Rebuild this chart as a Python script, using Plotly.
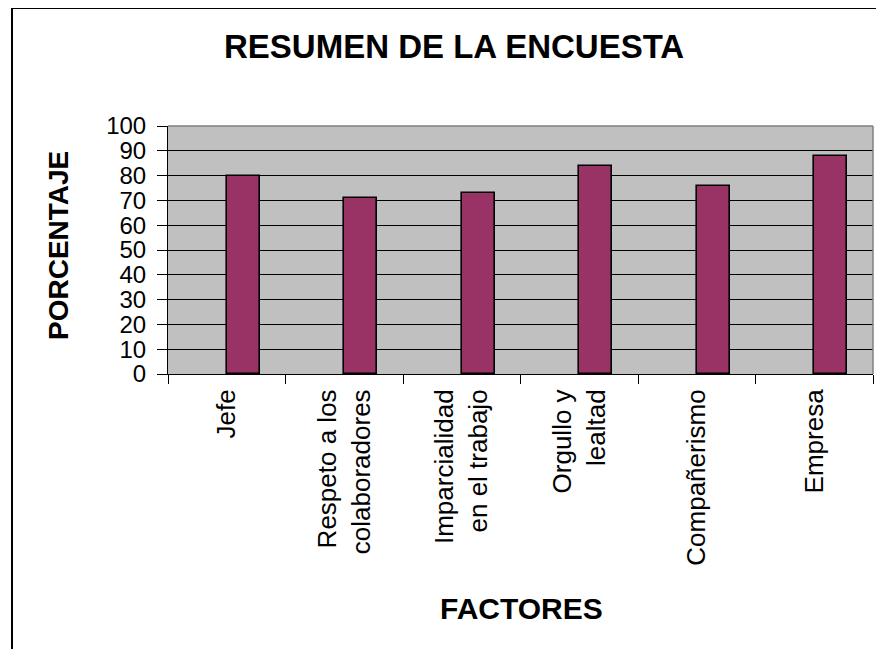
import plotly.graph_objects as go

categories = ["Jefe", "Respeto a los<br>colaboradores", "Imparcialidad<br>en el trabajo",
              "Orgullo y<br>lealtad", "Compañerismo", "Empresa"]
values = [80, 71, 73, 84, 76, 88]
y_ticks = [0, 10, 20, 30, 40, 50, 60, 70, 80, 90, 100]

W, H = 884, 649
OFF = 8  # page body margin
L, R, T, B = 168 - OFF, 873 - OFF, 126 - OFF, 374 - OFF

def px(x):
    return (x - OFF - L) / (R - L)

def py(y):
    return (B - (y - OFF)) / (B - T)

FONT = "Liberation Sans, Arial, sans-serif"

fig = go.Figure()
fig.add_trace(go.Bar(
    x=categories, y=values,
    offset=0, width=0.28,
    marker=dict(color="#993366", line=dict(color="black", width=1.6)),
))

fig.update_layout(
    width=W, height=H,
    margin=dict(l=L, r=W - R, t=T, b=H - B),
    paper_bgcolor="white",
    plot_bgcolor="#C0C0C0",
    showlegend=False,
    font=dict(family=FONT, color="black"),
    bargap=0,
)

fig.update_xaxes(
    type="category",
    range=[-0.5, 5.5],
    tickson="boundaries",
    ticks="outside", ticklen=9, tickcolor="black", tickwidth=1,
    showgrid=False,
    showline=True, linecolor="black", linewidth=1,
    tickangle=-90,
    tickfont=dict(size=26, family=FONT, color="black"),
    ticklabelstandoff=4,
)
fig.update_yaxes(
    range=[0, 100],
    tickvals=y_ticks,
    ticktext=[str(v) for v in y_ticks],
    ticks="outside", ticklen=10, tickcolor="black", tickwidth=1,
    showgrid=True, gridcolor="black", gridwidth=1,
    zeroline=False,
    showline=True, linecolor="black", linewidth=1,
    tickfont=dict(size=24, family=FONT, color="black"),
    ticklabelstandoff=6,
)

shapes = [
    dict(type="line", xref="paper", yref="paper", x0=0, x1=1, y0=1, y1=1,
         line=dict(color="#808080", width=1.5), layer="above"),
    dict(type="line", xref="paper", yref="paper", x0=1, x1=1, y0=0, y1=1,
         line=dict(color="#808080", width=1.5), layer="above"),
    dict(type="line", xref="paper", yref="paper", x0=px(11), x1=px(900), y0=py(8), y1=py(8),
         line=dict(color="black", width=2)),
    dict(type="line", xref="paper", yref="paper", x0=px(12), x1=px(12), y0=py(7), y1=py(660),
         line=dict(color="black", width=2)),
]
fig.update_layout(shapes=shapes)

annotations = [
    dict(text="<b>RESUMEN DE LA ENCUESTA</b>", xref="paper", yref="paper",
         x=px(454), y=py(47), showarrow=False, xanchor="center", yanchor="middle",
         font=dict(size=33, family=FONT, color="black")),
    dict(text="<b>PORCENTAJE</b>", xref="paper", yref="paper",
         x=px(58), y=py(246), showarrow=False, xanchor="center", yanchor="middle",
         textangle=-90, font=dict(size=28, family=FONT, color="black")),
    dict(text="<b>FACTORES</b>", xref="paper", yref="paper",
         x=px(521), y=py(608), showarrow=False, xanchor="center", yanchor="middle",
         font=dict(size=30, family=FONT, color="black")),
]
fig.update_layout(annotations=annotations)

fig.write_html("out.html")
